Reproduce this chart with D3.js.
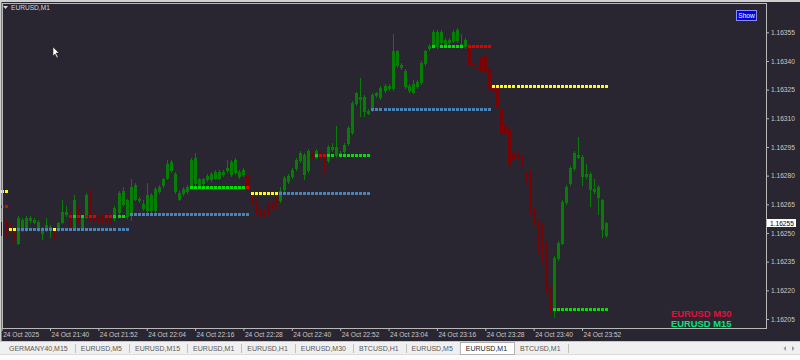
<!DOCTYPE html>
<html>
<head>
<meta charset="utf-8">
<script src="https://cdn.jsdelivr.net/npm/d3@7"></script>
<style>
html, body { margin: 0; padding: 0; background: #f0f0f0; overflow: hidden; }
svg { display: block; }
text { font-family: "Liberation Sans", Arial, sans-serif; }
</style>
</head>
<body>
<script>
// chart data
var symbol = "EURUSD,M1";
var firstBar = "2025-10-24 21:28";

var opens = [1.16256,1.16256,1.16254,1.16252,1.16245,1.16252,1.16252,1.16257,1.16256,1.16252,
  1.16250,1.16252,1.16252,1.16252,1.16252,1.16256,1.16260,1.16260,1.16253,1.16263,
  1.16253,1.16259,1.16271,1.16259,1.16258,1.16259,1.16259,1.16259,1.16258,1.16261,
  1.16265,1.16259,1.16260,1.16268,1.16267,1.16263,1.16262,1.16262,1.16262,1.16272,
  1.16275,1.16279,1.16283,1.16272,1.16268,1.16271,1.16272,1.16275,1.16276,1.16275,
  1.16276,1.16278,1.16278,1.16279,1.16279,1.16281,1.16283,1.16281,1.16282,1.16280,
  1.16281,1.16280,1.16271,1.16267,1.16261,1.16261,1.16265,1.16265,1.16269,1.16267,
  1.16273,1.16277,1.16280,1.16284,1.16288,1.16281,1.16283,1.16292,1.16290,1.16292,
  1.16291,1.16288,1.16294,1.16291,1.16291,1.16293,1.16297,1.16303,1.16318,1.16320,
  1.16314,1.16313,1.16315,1.16322,1.16321,1.16325,1.16326,1.16326,1.16338,1.16337,
  1.16327,1.16325,1.16324,1.16327,1.16329,1.16339,1.16347,1.16348,1.16348,1.16350,
  1.16349,1.16350,1.16351,1.16351,1.16348,1.16348,1.16348,1.16339,1.16337,1.16342,
  1.16343,1.16336,1.16326,1.16326,1.16315,1.16306,1.16304,1.16292,1.16292,1.16290,
  1.16281,1.16282,1.16262,1.16256,1.16254,1.16245,1.16222,1.16210,1.16237,1.16245,
  1.16266,1.16276,1.16284,1.16290,1.16280,1.16280,1.16273,1.16272,1.16269,1.16252,
  1.16249];
var highs = [1.16257,1.16257,1.16255,1.16253,1.16259,1.16258,1.16259,1.16259,1.16258,1.16257,
  1.16253,1.16258,1.16254,1.16253,1.16256,1.16267,1.16264,1.16261,1.16270,1.16264,
  1.16259,1.16271,1.16273,1.16260,1.16259,1.16260,1.16260,1.16260,1.16264,1.16272,
  1.16274,1.16268,1.16278,1.16276,1.16269,1.16267,1.16276,1.16271,1.16274,1.16275,
  1.16279,1.16288,1.16288,1.16282,1.16272,1.16274,1.16275,1.16289,1.16292,1.16279,
  1.16279,1.16281,1.16282,1.16283,1.16283,1.16283,1.16288,1.16288,1.16289,1.16283,
  1.16284,1.16281,1.16272,1.16268,1.16263,1.16262,1.16266,1.16266,1.16270,1.16274,
  1.16280,1.16281,1.16284,1.16289,1.16293,1.16292,1.16294,1.16293,1.16294,1.16293,
  1.16292,1.16296,1.16297,1.16306,1.16293,1.16297,1.16306,1.16319,1.16324,1.16331,
  1.16322,1.16315,1.16323,1.16324,1.16327,1.16328,1.16328,1.16354,1.16346,1.16339,
  1.16336,1.16328,1.16330,1.16330,1.16340,1.16346,1.16349,1.16356,1.16356,1.16356,
  1.16352,1.16352,1.16356,1.16357,1.16354,1.16352,1.16349,1.16341,1.16342,1.16343,
  1.16344,1.16337,1.16327,1.16327,1.16316,1.16307,1.16305,1.16293,1.16293,1.16291,
  1.16282,1.16283,1.16263,1.16257,1.16255,1.16246,1.16223,1.16238,1.16246,1.16267,
  1.16275,1.16285,1.16293,1.16300,1.16291,1.16286,1.16282,1.16278,1.16275,1.16268,
  1.16256];
var lows = [1.16248,1.16248,1.16250,1.16246,1.16244,1.16251,1.16251,1.16256,1.16255,1.16251,
  1.16247,1.16251,1.16248,1.16247,1.16251,1.16255,1.16259,1.16252,1.16252,1.16256,
  1.16252,1.16258,1.16257,1.16257,1.16256,1.16256,1.16255,1.16256,1.16257,1.16260,
  1.16264,1.16258,1.16257,1.16267,1.16266,1.16262,1.16261,1.16261,1.16261,1.16271,
  1.16274,1.16278,1.16282,1.16271,1.16267,1.16270,1.16271,1.16274,1.16275,1.16274,
  1.16275,1.16277,1.16277,1.16278,1.16278,1.16280,1.16282,1.16280,1.16281,1.16279,
  1.16280,1.16272,1.16265,1.16260,1.16259,1.16259,1.16260,1.16263,1.16263,1.16266,
  1.16272,1.16276,1.16279,1.16283,1.16287,1.16278,1.16282,1.16289,1.16289,1.16289,
  1.16282,1.16287,1.16293,1.16290,1.16290,1.16292,1.16296,1.16302,1.16317,1.16311,
  1.16311,1.16312,1.16314,1.16321,1.16320,1.16324,1.16325,1.16325,1.16337,1.16336,
  1.16326,1.16324,1.16323,1.16326,1.16328,1.16338,1.16346,1.16347,1.16347,1.16349,
  1.16348,1.16349,1.16350,1.16350,1.16347,1.16347,1.16337,1.16334,1.16335,1.16334,
  1.16334,1.16325,1.16324,1.16315,1.16302,1.16302,1.16285,1.16288,1.16289,1.16285,
  1.16276,1.16260,1.16254,1.16240,1.16235,1.16219,1.16208,1.16206,1.16236,1.16244,
  1.16265,1.16275,1.16283,1.16289,1.16275,1.16279,1.16264,1.16271,1.16260,1.16248,
  1.16248];
var closes = [1.16249,1.16250,1.16250,1.16247,1.16258,1.16257,1.16258,1.16258,1.16257,1.16256,
  1.16252,1.16254,1.16253,1.16248,1.16255,1.16261,1.16261,1.16253,1.16267,1.16257,
  1.16258,1.16270,1.16258,1.16258,1.16257,1.16257,1.16256,1.16257,1.16263,1.16271,
  1.16272,1.16267,1.16274,1.16275,1.16268,1.16265,1.16270,1.16270,1.16273,1.16274,
  1.16278,1.16286,1.16287,1.16281,1.16271,1.16273,1.16274,1.16288,1.16289,1.16278,
  1.16278,1.16280,1.16281,1.16282,1.16282,1.16282,1.16284,1.16287,1.16288,1.16282,
  1.16283,1.16274,1.16266,1.16261,1.16260,1.16260,1.16261,1.16264,1.16264,1.16272,
  1.16279,1.16280,1.16283,1.16288,1.16292,1.16291,1.16293,1.16290,1.16293,1.16290,
  1.16287,1.16295,1.16295,1.16295,1.16292,1.16296,1.16305,1.16318,1.16323,1.16321,
  1.16321,1.16314,1.16322,1.16323,1.16326,1.16327,1.16327,1.16345,1.16345,1.16338,
  1.16335,1.16327,1.16328,1.16329,1.16339,1.16345,1.16348,1.16355,1.16355,1.16355,
  1.16351,1.16351,1.16355,1.16356,1.16349,1.16351,1.16338,1.16338,1.16336,1.16335,
  1.16335,1.16326,1.16325,1.16316,1.16303,1.16303,1.16286,1.16289,1.16290,1.16286,
  1.16280,1.16261,1.16255,1.16255,1.16245,1.16220,1.16209,1.16237,1.16245,1.16266,
  1.16274,1.16284,1.16292,1.16291,1.16290,1.16281,1.16281,1.16273,1.16274,1.16267,
  1.16255];

// MTF levels: [first bar, last bar, price, kind]
var levelRows = [
  [0, 1, 1.16272, "Y"], [0, 1, 1.16264, "R"],
  [2, 3, 1.16252, "Y"], [4, 12, 1.16252, "B"], [13, 13, 1.16252, "Y"], [14, 31, 1.16252, "B"],
  [17, 17, 1.16259, "R"], [18, 18, 1.16259, "G"], [19, 19, 1.16259, "R"], [20, 20, 1.16259, "G"],
  [21, 23, 1.16259, "R"], [26, 27, 1.16259, "R"], [28, 30, 1.16259, "G"],
  [32, 61, 1.16260, "B"],
  [47, 60, 1.16274, "G"], [61, 61, 1.16274, "R"],
  [62, 68, 1.16271, "Y"], [69, 91, 1.16271, "B"],
  [78, 78, 1.16291, "G"], [79, 80, 1.16291, "R"], [81, 82, 1.16291, "G"], [84, 91, 1.16291, "G"],
  [92, 121, 1.16315, "B"],
  [107, 107, 1.16348, "G"], [109, 114, 1.16348, "G"], [116, 121, 1.16348, "R"],
  [122, 150, 1.16327, "Y"],
  [137, 150, 1.16210, "G"]
];

var priceTicks = [1.16205, 1.16220, 1.16235, 1.16250, 1.16265, 1.16280, 1.16295, 1.16310, 1.16325, 1.16340, 1.16355];
var timeTicks = ["21:28", "21:40", "21:52", "22:04", "22:16", "22:28", "22:40", "22:52", "23:04", "23:16", "23:28", "23:40", "23:52"];
var timeLabels = ["24 Oct 2025", "24 Oct 21:40", "24 Oct 21:52", "24 Oct 22:04", "24 Oct 22:16", "24 Oct 22:28",
  "24 Oct 22:40", "24 Oct 22:52", "24 Oct 23:04", "24 Oct 23:16", "24 Oct 23:28", "24 Oct 23:40", "24 Oct 23:52"];
var lastPrice = 1.16255;
var legendNames = ["EURUSD M30", "EURUSD M15"];
var tabNames = ["GERMANY40,M15", "EURUSD,M5", "EURUSD,M15", "EURUSD,M1", "EURUSD,H1", "EURUSD,M30",
  "BTCUSD,H1", "EURUSD,M5", "EURUSD,M1", "BTCUSD,M1"];
var activeTab = 8;

var levelColor = {Y: "#ffff00", B: "#4a84b6", G: "#00e000", R: "#e00000"};
var bg = "#2a2631";

var width = 800, height = 360;
var frame = {left: 2, right: 766, top: 3, bottom: 328};

var parseTime = d3.timeParse("%Y-%m-%d %H:%M");
var t0 = parseTime(firstBar);
var day = "2025-10-24 ";
var barTimes = opens.map(function(d, i) { return d3.timeMinute.offset(t0, i); });

var x = d3.scaleTime()
    .domain([parseTime(day + "21:40"), parseTime(day + "23:52")])
    .range([50, 582]);
var y = d3.scaleLinear()
    .domain([1.16205, 1.16355])
    .range([319, 32.3]);

var svg = d3.select("body").append("svg")
    .attr("width", width)
    .attr("height", height);

// window backgrounds
svg.append("rect").attr("width", width).attr("height", height).attr("fill", "#f0f0f0");
svg.append("rect").attr("width", width).attr("height", 341).attr("fill", bg);
svg.append("rect").attr("width", width).attr("height", 2).attr("fill", "#cfcfcf");
svg.append("rect").attr("width", 1.5).attr("height", 341).attr("fill", "#cfcfcf");

var plot = svg.append("g");

// candles
var bars = plot.selectAll("g.bar").data(opens).enter().append("g").attr("class", "bar");
bars.each(function(o, i) {
  var g = d3.select(this);
  var cx = Math.round(x(barTimes[i]));
  var up = closes[i] >= opens[i];
  var col = up ? "#067e06" : "#7a0202";
  var hy = Math.round(y(highs[i])), ly = Math.round(y(lows[i]));
  var top = Math.round(y(Math.max(opens[i], closes[i])));
  var bot = Math.round(y(Math.min(opens[i], closes[i])));
  g.append("rect").attr("x", cx).attr("y", hy).attr("width", 1).attr("height", Math.max(1, ly - hy + 1)).attr("fill", col);
  g.append("rect").attr("x", cx - 1).attr("y", top).attr("width", 3).attr("height", Math.max(1, bot - top + 1)).attr("fill", col);
});

// level dots
levelRows.forEach(function(r) {
  var ly = Math.round(y(r[2]));
  for (var i = r[0]; i <= r[1]; i++) {
    var cx = Math.round(x(barTimes[i]));
    plot.append("rect")
      .attr("x", cx - 1).attr("y", ly - 1)
      .attr("width", 3).attr("height", 3)
      .attr("fill", levelColor[r[3]]);
  }
});

// frame
svg.append("rect")
  .attr("x", frame.left + 0.5).attr("y", frame.top + 0.5)
  .attr("width", frame.right - frame.left).attr("height", frame.bottom - frame.top)
  .attr("fill", "none").attr("stroke", "#b8b8b8").attr("stroke-width", 1);

// price axis
var yAxis = d3.axisRight(y)
    .tickValues(priceTicks)
    .tickSize(3)
    .tickPadding(2)
    .tickFormat(d3.format(".5f"));
var ya = svg.append("g")
    .attr("transform", "translate(" + frame.right + ",0)")
    .call(yAxis);
ya.select(".domain").remove();
ya.selectAll("line").attr("stroke", "#b8b8b8");
ya.selectAll("text").attr("fill", "#c8c8c8").attr("font-size", "6.6px").attr("font-family", "Liberation Sans, Arial");

// time axis
var xAxis = d3.axisBottom(x)
    .tickValues(timeTicks.map(function(t) { return parseTime(day + t); }))
    .tickSize(3)
    .tickPadding(1)
    .tickFormat(function(d, i) { return timeLabels[i]; });
var xa = svg.append("g")
    .attr("transform", "translate(0," + frame.bottom + ")")
    .call(xAxis);
xa.select(".domain").remove();
xa.selectAll("line").attr("stroke", "#b8b8b8");
xa.selectAll("text").attr("fill", "#c8c8c8").attr("font-size", "6.6px")
  .attr("font-family", "Liberation Sans, Arial")
  .attr("text-anchor", "start").attr("dx", "1");

// last price label
var lp = Math.round(y(lastPrice));
svg.append("rect").attr("x", 767).attr("y", lp - 4).attr("width", 29).attr("height", 8).attr("fill", "#ffffff");
svg.append("text").attr("x", 770).attr("y", lp + 2.5).attr("font-size", "6.6px").attr("fill", "#000")
  .text(d3.format(".5f")(lastPrice));

// title
svg.append("path").attr("d", "M3,6 L8,6 L5.5,9 Z").attr("fill", "#d8d8d8");
svg.append("text").attr("x", 11).attr("y", 10).attr("font-size", "6.6px").attr("fill", "#d8d8d8").text(symbol);

// Show button
svg.append("rect").attr("x", 736.5).attr("y", 10.5).attr("width", 20).attr("height", 10)
  .attr("fill", "#0000e6").attr("stroke", "#8c8cff");
svg.append("text").attr("x", 746.5).attr("y", 18).attr("text-anchor", "middle")
  .attr("font-size", "6.6px").attr("fill", "#ffffff").text("Show");

// mouse pointer
svg.append("path").attr("d", "M53,47 L53,56 L55,54 L57,58 L58,57 L56,53 L59,53 Z")
  .attr("fill", "#ffffff").attr("stroke", "#222").attr("stroke-width", 0.5);

// legend
var legendColors = ["#e0103c", "#00e878"];
legendNames.forEach(function(n, i) {
  svg.append("text").attr("x", 671).attr("y", 317 + i * 10)
    .attr("font-family", "DejaVu Sans, Verdana, sans-serif")
    .attr("font-size", "9.4px").attr("font-weight", "bold")
    .attr("fill", legendColors[i]).text(n);
});

// tab bar
svg.append("rect").attr("y", 341).attr("width", width).attr("height", 13).attr("fill", "#f0f0f0");
svg.append("line").attr("x1", 0).attr("x2", width).attr("y1", 341.5).attr("y2", 341.5).attr("stroke", "#c8c8c8");
svg.append("rect").attr("y", 354).attr("width", width).attr("height", 6).attr("fill", "#fbfbfb");
svg.append("line").attr("x1", 0).attr("x2", width).attr("y1", 354.5).attr("y2", 354.5).attr("stroke", "#dcdcdc");

var cursor = 3;
var tabs = svg.append("g");
tabNames.forEach(function(n, i) {
  var t = tabs.append("text").attr("x", cursor + 6).attr("y", 351)
    .attr("font-size", "7px").attr("fill", i === activeTab ? "#222" : "#5a5a5a").text(n);
  var w = t.node().getComputedTextLength();
  if (i === activeTab) {
    tabs.insert("rect", "text").attr("x", cursor + 0.5).attr("y", 342.5).attr("width", w + 13).attr("height", 12)
      .attr("fill", "#ffffff").attr("stroke", "#b0b0b0");
  }
  cursor += w + 13;
  if (i !== activeTab && i + 1 !== activeTab) {
    tabs.append("line").attr("x1", Math.round(cursor) + 0.5).attr("x2", Math.round(cursor) + 0.5)
      .attr("y1", 344).attr("y2", 353).attr("stroke", "#c0c0c0");
  }
});
svg.append("path").attr("d", "M786,346 L786,351 L783.5,348.5 Z").attr("fill", "#999");
svg.append("path").attr("d", "M792,346 L792,351 L794.5,348.5 Z").attr("fill", "#999");
</script>
</body>
</html>
